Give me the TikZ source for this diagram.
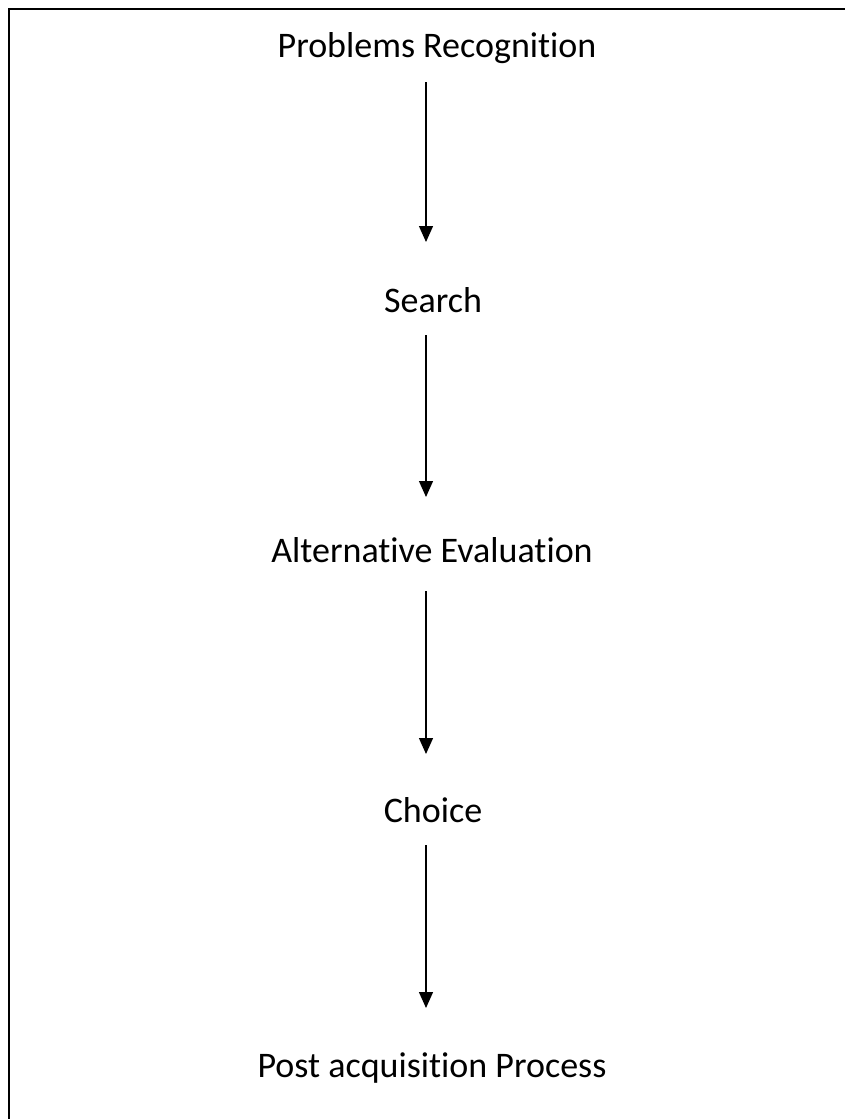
\documentclass[tikz,border=0pt]{standalone}
\usepackage{fontspec}
\setmainfont{Carlito}[RawFeature={-liga}]
\usetikzlibrary{arrows.meta}
\begin{document}
\begin{tikzpicture}[x=1bp,y=-1bp,
  lbl/.style={anchor=base,inner sep=0pt,font=\fontsize{36bp}{43bp}\selectfont},
  flow/.style={line width=1.3bp,-{Triangle[width=14bp,length=16bp]}},
  frame/.style={line width=2bp}]
\useasboundingbox (0,0) rectangle (845,1119);
\draw[frame] (9,1119) -- (9,9) -- (845,9);
\node[lbl] (n1) at (437,57) {Problems Recognition};
\node[lbl] (n2) at (433,312) {Search};
\node[lbl] (n3) at (432,562) {Alternative Evaluation};
\node[lbl] (n4) at (433,822) {Choice};
\node[lbl] (n5) at (432,1077) {Post acquisition Process};
\coordinate (s1) at (426,82);  \coordinate (t1) at (426,242);
\coordinate (s2) at (426,335); \coordinate (t2) at (426,497);
\coordinate (s3) at (426,591); \coordinate (t3) at (426,754);
\coordinate (s4) at (426,845); \coordinate (t4) at (426,1008);
\draw[flow] (s1) -- (t1);
\draw[flow] (s2) -- (t2);
\draw[flow] (s3) -- (t3);
\draw[flow] (s4) -- (t4);
\end{tikzpicture}
\end{document}
